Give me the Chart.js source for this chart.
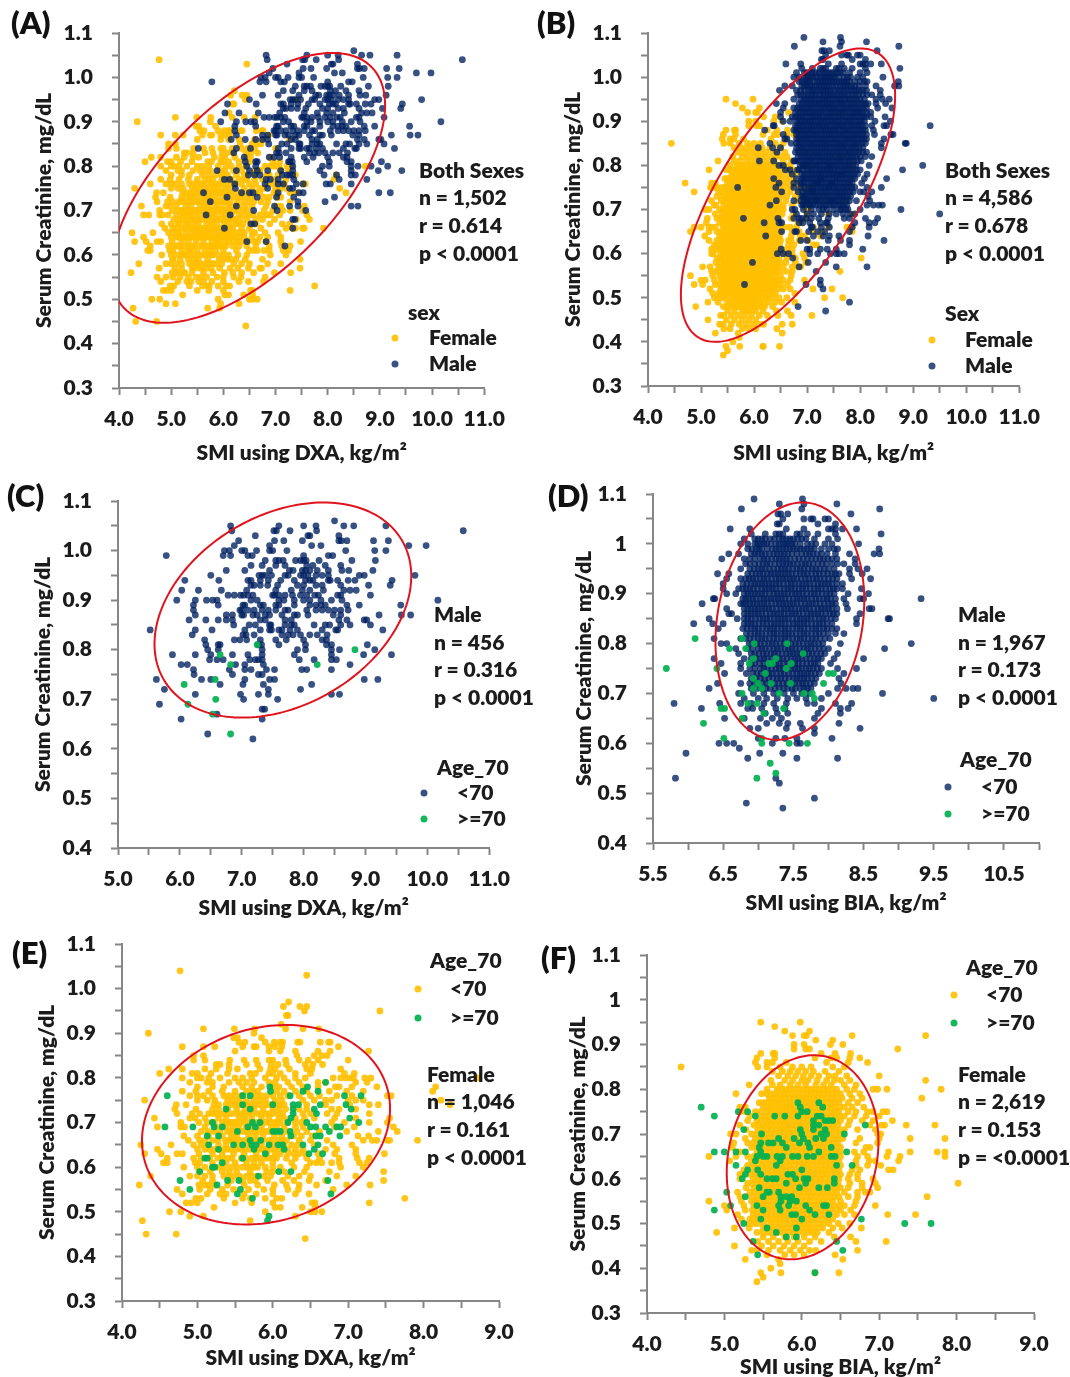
<!DOCTYPE html>
<html>
<head>
<meta charset="utf-8">
<title>Serum creatinine vs SMI</title>
<script src="https://cdn.jsdelivr.net/npm/chart.js@4"></script>
<style>
html, body { margin: 0; padding: 0; background: #fff; }
#page { position: relative; width: 1070px; height: 1377px; overflow: hidden; }
canvas { position: absolute; }
.t { position: absolute; font: 800 21px Lato, sans-serif; color: #1c1c1c; line-height: 1; transform: translateY(-50%); margin-top: -2px; white-space: nowrap; }
.letter { font-size: 31px; color: #111; }
.dot { position: absolute; width: 7px; height: 7px; border-radius: 50%; transform: translate(-50%, -50%); }
</style>
</head>
<body>
<div id="page"></div>
<script>
// rows are [creatinine, smi, smi, ...] - creatinine is reported in 0.01 steps
const dxaFemale = [
[1.04,4.77],[1.03,6.45],[.97,6.21],[.96,6.14,6.36,6.45],[.95,6.42,7.42],[.94,6.18,6.2],[.92,6.11],
[.91,5.08,5.49,5.76,6.17,6.4,6.61],[.90,4.35,5.75],[.89,5.48,5.53,5.85],
[.88,5.55,5.63,5.9,6.02,6.1,6.13,6.33,6.36,6.63,6.74,6.76],
[.87,4.8,5.08,5.23,5.6,5.75,5.78,5.95,6.03,6.12,6.87],
[.86,5.5,5.95,6.1,6.3,6.6,6.76,7.27],[.85,4.95,5.08,6.32,6.55,6.65,6.72],
[.84,4.95,5.1,5.43,5.62,5.78,5.95,6.0,6.17,6.35,6.47,6.6,7.0],
[.83,5.25,5.3,5.42,5.65,5.8,5.98,6.07,6.18,6.43,6.53,6.66],
[.82,4.62,4.8,5.1,5.25,5.42,5.53,5.83,5.97,6.03,6.22,6.45,6.52,6.9],
[.81,4.5,4.93,5.0,5.18,5.4,5.7,5.77,5.95,6.0,6.1,6.3,6.5,6.95,7.08],
[.80,4.8,5.0,5.05,5.15,5.3,5.5,5.6,5.72,5.9,6.05,6.15,6.3,6.43,6.8,6.9,6.97,7.03,7.07,7.22,7.3,8.72],
[.79,4.9,5.13,5.2,5.42,5.55,5.65,5.75,5.95,6.03,6.2,6.35,6.6,6.7,7.1,7.25],
[.78,5.0,5.2,5.35,5.6,5.72,5.85,6.0,6.08,6.25,6.4,6.6,6.83,6.88,7.05,7.38,8.16],
[.77,4.8,4.98,5.15,5.33,5.5,5.65,5.73,5.8,6.05,6.15,6.3,6.45,6.75,6.98,7.2,8.12],
[.76,4.9,5.0,5.08,5.2,5.35,5.42,5.5,5.58,5.78,5.85,5.92,6.0,6.1,6.2,6.35,6.5,6.62,6.85,7.05,7.52,7.57],
[.75,4.3,5.0,5.13,5.23,5.4,5.47,5.55,5.65,5.75,5.83,5.9,6.03,6.12,6.4,6.55,6.7,6.78,7.0,7.1,7.2,8.23],
[.74,4.72,4.85,5.28,5.38,5.5,5.6,5.7,5.82,5.95,6.05,6.15,6.45,6.7,7.02,7.28,7.4,8.35],
[.73,4.7,4.98,5.2,5.28,5.4,5.52,5.63,5.75,5.87,6.0,6.08,6.17,6.35,6.45,6.78,6.88,7.1],
[.72,4.73,4.93,5.03,5.15,5.25,5.35,5.45,5.58,5.68,5.8,5.9,6.0,6.13,6.4,6.5,6.72,6.85,7.28],
[.71,4.43,4.9,4.97,5.1,5.28,5.38,5.55,5.63,5.72,5.85,5.95,6.08,6.15,6.3,6.42,6.55,6.82,7.1,7.55],
[.70,4.78,5.02,5.13,5.33,5.43,5.5,5.62,5.78,5.9,6.02,6.1,6.3,6.38,6.78,6.95,7.28,7.52],
[.69,4.47,4.78,4.83,5.1,5.25,5.38,5.47,5.55,5.65,5.75,5.85,5.98,6.05,6.15,6.3,6.4,6.82,7.08,7.6],
[.68,5.05,5.22,5.4,5.48,5.6,5.7,5.82,5.92,6.0,6.18,6.32,6.45,6.62,6.98,7.4,7.65],
[.67,4.82,5.0,5.15,5.33,5.45,5.52,5.68,5.77,5.87,6.02,6.12,6.28,6.38,6.52,7.13,7.27],
[.66,4.88,5.03,5.2,5.42,5.5,5.63,5.72,5.8,5.95,6.08,6.18,6.35,6.5,6.72,7.2,7.32,7.38,7.52,7.55,7.92],
[.65,4.25,4.65,4.95,5.05,5.13,5.28,5.38,5.53,5.67,5.85,6.0,6.15,6.25,6.33,6.55,6.8,7.05],
[.64,4.47,5.0,5.1,5.22,5.35,5.45,5.58,5.7,5.82,5.9,6.03,6.2,6.3,6.4,6.7,6.85,7.1],
[.63,4.3,4.52,4.73,4.8,5.02,5.2,5.33,5.48,5.62,5.78,5.92,6.03,6.1,6.2,6.28,6.35,6.43,6.6,6.82,7.1,7.48],
[.62,4.6,4.95,5.05,5.27,5.4,5.58,5.72,5.83,5.95,6.05,6.18,6.3,6.45,6.62,6.88,7.12,7.28],
[.61,4.55,4.6,4.97,5.03,5.2,5.38,5.5,5.65,5.75,5.85,6.0,6.25,6.5,6.58,6.65,6.78,6.88,7.15,7.25],
[.60,4.82,5.0,5.1,5.28,5.45,5.6,5.72,5.8,6.1,6.28,6.45,6.9,7.2],
[.59,5.03,5.17,5.33,5.42,5.52,5.7,5.92,6.0,6.15,6.42,6.75,7.47],
[.58,4.38,4.9,5.0,5.1,5.35,5.48,5.65,5.78,5.97,6.2,6.35,6.5,6.85,7.1],
[.57,5.07,5.2,5.45,5.6,5.7,5.77,5.93,6.13,6.28,6.48,6.7,7.47],
[.56,4.23,5.02,5.1,5.15,5.23,5.4,5.62,5.8,6.02,6.18,6.35,6.58,6.98,7.29],
[.55,4.73,5.03,5.17,5.33,5.48,5.68,5.88,6.0,6.2,6.34,6.8],
[.54,4.8,5.13,5.3,5.38,5.62,5.78,6.0,6.3,6.48],
[.53,4.98,5.05,5.35,5.6,5.7,5.9,6.05,6.12,7.75],
[.52,4.85,4.92,5.0,5.5,5.72,6.0,6.52,6.56,7.28],
[.51,5.22,6.03,6.1,6.39,6.56],[.50,4.63,4.78,5.9,6.56,6.65,6.5],[.49,4.9,5.08,6.3],
[.48,4.27,5.7],[.45,4.32,4.72],[.44,6.43]];

// thick middle of the DXA female cloud
const dxaFemaleDense = [
[.74,5.22,5.44,5.55,5.65,5.76,5.9,6.0,6.1],[.72,5.2,5.3,5.4,5.52,5.63,5.74,5.85,5.95,6.07],
[.70,5.22,5.38,5.47,5.56,5.7,5.84,5.96,6.06,6.2],[.68,5.14,5.3,5.44,5.54,5.65,5.76,5.87,5.96,6.08],
[.66,5.1,5.27,5.37,5.46,5.56,5.68,5.76,5.87,6.0,6.13],[.64,5.16,5.28,5.4,5.52,5.64,5.76,5.86,5.97,6.1],
[.62,5.16,5.33,5.46,5.64,5.78,5.9,6.0],[.60,5.2,5.36,5.52,5.66,5.76,5.9,6.0],[.58,5.2,5.42,5.56,5.72,5.88]];

const dxaFemaleOld = [
[.79,6.7],[.78,5.96,6.46],[.77,5.97,6.4,6.6],[.76,4.6,5.6,5.7,6.23,6.95,7.17],[.74,5.6,6.0,6.27,6.34,6.63,6.97],
[.73,5.38,5.7,6.27,6.55,7.04],[.72,6.27,6.58],[.71,6.24,7.02],[.70,5.2,5.73,5.83,6.2,6.45,7.14],
[.69,4.57,4.94,5.22,5.33,5.67,5.77,6.5,6.57,6.7,6.85,6.9],[.68,5.53,6.0,6.05,6.1,6.23,6.75],
[.67,5.13,5.28,6.24,6.57,6.63,6.89],[.66,5.7,5.84],[.65,5.15,5.48,5.6,5.72,5.78,5.95,6.07,6.13,6.4,6.6],
[.64,5.28,5.75,6.15,6.55],[.63,5.9,6.48,6.66],[.62,5.1,5.13,5.6],[.61,5.33],[.60,5.2,5.23],[.59,5.03,6.08,6.24],
[.58,5.81],[.57,4.77,5.4,5.55,6.73],[.56,5.26],[.55,4.9,5.57],[.54,5.53,6.77],[.53,5.73],[.49,5.95],[.48,5.93]];

const dxaMale = [
[1.06,8.5],[1.05,6.82,7.6,8.0,8.2,8.65,8.81,9.33],[1.04,6.84,7.52,7.56,7.78,8.21,10.58],[1.03,7.22,8.07,8.1,8.57],
[1.02,6.95,7.53,7.68,7.98,8.57,8.61,8.7,9.13,9.37],[1.01,6.88,7.45,8.13,8.28,9.7,9.98],
[1.00,6.72,6.8,7.0,7.05,7.24,7.45,7.5,7.73,8.68,9.15,9.33],[.99,5.78,6.7,6.82,7.1,7.17,8.0,8.4,8.47],
[.98,7.38,7.55,7.6,7.67,7.87,7.95,8.0,8.04,8.25,8.78,9.16],[.97,7.15,7.33,7.55,7.7,8.05,8.15,8.35,8.6],
[.96,6.75,7.05,7.45,7.77,7.83,7.98,8.03,8.1,8.22,8.4,8.62,8.73,9.12],
[.95,6.5,7.28,7.33,7.38,7.48,7.7,7.75,7.95,8.0,8.07,8.2,8.3,8.4,8.9,8.98,9.8],
[.94,6.08,6.63,7.1,7.15,7.3,7.43,7.63,7.85,8.03,8.1,8.15,8.4,8.43,8.55,8.72,8.83,9.43],
[.93,7.15,7.2,7.3,7.42,7.58,7.9,8.0,8.2,8.3,8.6,9.05,9.4],
[.92,6.03,6.3,6.67,7.08,7.55,7.8,7.98,8.1,8.32,8.65,8.75,8.85],
[.91,6.78,6.88,6.98,7.03,7.1,7.18,7.5,7.53,7.6,7.7,7.82,7.95,8.05,8.18,8.24,8.55,8.6,9.08],
[.90,5.95,6.25,6.43,6.53,6.6,7.15,7.25,7.6,7.68,7.85,8.0,8.1,8.28,8.45,8.62,10.17],
[.89,6.22,6.62,7.02,7.05,7.3,7.35,7.55,7.6,7.85,8.1,8.2,8.28,8.35,8.7,8.9,9.57],
[.88,6.22,6.97,7.0,7.1,7.2,7.33,7.43,7.55,7.7,7.75,8.05,8.2,8.3,8.4,8.5,8.6,8.72],
[.87,6.25,6.75,6.85,7.0,7.03,7.18,7.25,7.38,7.45,7.65,7.85,7.9,8.07,8.48,8.6,9.22,9.58,9.73],
[.86,6.15,6.42,6.62,6.75,6.85,7.3,7.38,7.7,7.8,8.57,8.7,8.98,9.02],
[.85,6.87,7.12,7.22,7.45,7.47,7.7,7.8,7.85,8.17,8.35,8.42,8.6,8.75,9.08],
[.84,5.52,6.25,6.52,7.05,7.3,7.45,7.48,7.6,7.65,7.78,7.9,8.3,8.52,8.55,9.28],
[.83,6.2,7.02,7.07,7.2,7.65,7.75,7.83,7.95,8.1,8.22,8.38],[.82,6.4,6.88,6.97,7.08,7.3,7.55,7.72,8.0,8.3,8.37],
[.81,6.42,6.62,6.65,7.27,7.32,7.6,8.03,8.37,8.45,9.03],[.80,6.45,6.62,7.33,7.9,8.03,8.45,8.58,9.15],
[.79,5.88,6.25,6.5,6.85,7.1,7.33,7.85,8.45,8.97,9.42],[.78,6.48,6.6,6.7,7.13,7.22,7.27,7.33,7.93,8.17,8.45,8.53],
[.77,6.02,6.12,6.9,7.05,7.35,8.75],[.76,6.22,6.8,7.05,7.15,7.4,7.53,7.97,8.05,8.45],[.75,6.23,6.85,7.27,7.33],
[.74,5.62,6.35,6.5,7.05,7.45,7.53,8.98,9.2],[.73,6.65,7.02,7.35,8.13],[.72,5.75,7.43,7.95],
[.71,6.25,6.98,7.27,7.43,8.45,8.58],[.70,7.03,7.58],[.69,5.67],[.68,7.33,7.37],[.67,6.6],[.66,6.02,7.33],[.63,6.45],[.62,7.18]];

const dxaMaleOld = [[.81,7.25],[.80,8.83],[.79,6.65],[.77,6.82,8.22],[.74,6.57],[.73,6.07],[.70,6.58],[.69,6.13],[.67,6.53],[.63,6.82]];

const biaFemale = [
[.95,5.47,5.98],[.94,5.65],[.93,5.78,6.1],[.92,5.88,6.03,6.06,6.65,7.6],[.91,6.18,6.4],[.90,5.9,6.03,6.37,6.53],
[.89,5.9,6.05,6.1,7.24],[.88,5.47,5.63,5.65,6.25,6.43,6.63],[.87,5.42,5.65,6.17,6.38,6.45,6.62,6.75],
[.86,5.4,5.55,5.62,5.8,6.32,6.6,6.85],[.85,4.44,5.43,5.55,5.72,5.88,6.0,6.12,6.4,6.55],
[.84,5.62,5.75,5.85,5.95,6.05,6.15,6.3,6.48],[.83,5.7,5.82,5.92,6.02,6.12,6.22,6.35,6.43,6.58,7.0],
[.82,5.6,5.78,5.88,6.0,6.08,6.2,6.32,6.42,6.5,6.62,7.6],[.81,5.32,5.62,5.72,5.85,5.95,6.05,6.18,6.28,6.38,6.55,6.7],
[.80,5.55,5.68,5.78,5.9,6.02,6.12,6.22,6.33,6.45,6.58,6.68,6.92,6.98,7.1,7.8],
[.79,5.15,5.48,5.6,5.72,5.82,5.95,6.08,6.17,6.28,6.4,6.5,6.62,6.75],
[.78,5.58,5.68,5.78,5.9,6.0,6.1,6.2,6.32,6.42,6.52,6.65,6.78,7.55],
[.77,5.45,5.55,5.65,5.75,5.85,5.95,6.05,6.15,6.27,6.37,6.48,6.6,6.72],
[.76,5.2,5.27,5.5,5.6,5.7,5.8,5.9,6.02,6.12,6.22,6.32,6.43,6.55,6.65,6.8],
[.75,5.2,5.27,5.4,5.55,5.65,5.75,5.85,5.95,6.05,6.15,6.25,6.38,6.48,6.6,6.7,6.85,6.92,7.05,7.1],
[.74,5.33,5.48,5.58,5.7,5.8,5.9,6.02,6.12,6.22,6.33,6.43,6.55,6.68,6.83,7.0],
[.73,5.3,5.42,5.53,5.63,5.75,5.85,5.97,6.08,6.18,6.28,6.4,6.5,6.62,6.78,6.92,7.17],
[.72,5.2,5.38,5.5,5.6,5.72,5.82,5.93,6.03,6.13,6.25,6.35,6.47,6.6,6.88,7.03,7.07,7.72,7.35],
[.71,5.28,5.43,5.55,5.67,5.77,5.88,6.0,6.1,6.2,6.32,6.42,6.55,6.72,6.95],
[.70,5.08,5.15,5.35,5.48,5.6,5.72,5.83,5.95,6.05,6.17,6.27,6.38,6.5,6.98,7.02],
[.69,5.27,5.4,5.52,5.63,5.75,5.85,5.97,6.08,6.2,6.3,6.42,6.53,6.75,7.0,7.4,7.85],
[.68,5.12,5.3,5.43,5.55,5.67,5.78,5.9,6.02,6.13,6.23,6.35,6.47,6.7,6.98],
[.67,5.1,5.35,5.48,5.6,5.72,5.82,5.93,6.05,6.17,6.27,6.38,6.5,6.83,6.88],
[.66,5.2,5.42,5.53,5.65,5.77,5.88,6.0,6.1,6.22,6.33,6.45,6.68,6.8,7.12,7.4,7.75,7.85],
[.65,4.8,5.15,5.3,5.45,5.57,5.68,5.8,5.92,6.03,6.15,6.27,6.38,6.5,6.72,6.85,7.1,7.27,7.85],
[.64,5.07,5.35,5.5,5.62,5.73,5.85,5.97,6.08,6.2,6.32,6.43,6.7,6.87,6.95,7.25],
[.63,5.3,5.43,5.55,5.67,5.78,5.9,6.02,6.13,6.25,6.37,6.5,6.7,6.85,7.02],
[.62,5.25,5.38,5.5,5.62,5.73,5.85,5.97,6.08,6.2,6.3,6.42,6.65,6.75,7.12,7.18],
[.61,5.2,5.33,5.45,5.57,5.68,5.8,5.92,6.03,6.15,6.27,6.38,6.5,6.62,6.72],
[.60,5.2,5.37,5.48,5.6,5.72,5.83,5.95,6.07,6.18,6.3,6.42,6.6,6.72,6.92],
[.59,5.3,5.42,5.53,5.65,5.77,5.88,6.0,6.12,6.23,6.35,6.47,6.62,6.78,6.95,8.02],
[.58,5.28,5.38,5.5,5.62,5.73,5.85,5.97,6.08,6.2,6.32,6.43,6.6,6.78,6.98],
[.57,5.17,5.33,5.45,5.57,5.68,5.8,5.92,6.03,6.15,6.27,6.4,6.55,6.72,6.82,6.88],
[.56,5.2,5.35,5.48,5.6,5.72,5.83,5.95,6.07,6.18,6.3,6.42,6.6,6.72,7.62],
[.55,4.8,5.22,5.4,5.52,5.63,5.75,5.87,5.98,6.1,6.22,6.33,6.5,6.7],
[.54,5.0,5.25,5.38,5.5,5.6,5.72,5.83,5.95,6.07,6.18,6.3,6.42,6.55,6.68,6.95],
[.53,5.03,5.27,5.43,5.55,5.67,5.78,5.9,6.02,6.13,6.25,6.37,6.5,6.63],
[.52,5.17,5.37,5.48,5.6,5.72,5.83,5.95,6.07,6.18,6.3,6.45,6.55,6.68,7.11,7.47],
[.51,5.22,5.33,5.43,5.55,5.67,5.78,5.9,6.02,6.13,6.28,6.4],[.50,5.32,5.43,5.6,5.72,5.85,5.97,6.08,6.22,6.35,6.47,6.62],
[.49,5.13,5.32,5.5,5.62,5.75,5.88,6.0,6.12,6.27,6.4,6.52,6.77],[.48,4.9,5.42,5.57,5.7,5.83,5.95,6.08,6.2,6.35],
[.47,5.5,5.63,5.78,5.9,6.03,6.17,6.42,6.63],[.46,5.43,5.57,5.7,5.82,5.95,6.1,6.25,6.7,7.09],[.45,5.13,5.48,5.63,5.77,5.9,6.03],
[.44,5.35,5.42,5.57,5.72,5.85,5.98,6.1,6.18,6.72],[.43,5.55,5.78,5.9,6.03,6.43],[.42,5.27,5.7,6.53],[.41,5.72],
[.40,5.6],[.39,5.47,5.73,6.48,6.17],[.38,5.5],[.37,5.42]];

// thick middle of the BIA female cloud
const biaFemaleDense = [
[.80,5.74,5.84,5.96,6.07,6.17,6.28,6.39],[.79,5.55,5.66,5.77,5.88,6.01,6.12,6.23,6.34,6.45],
[.78,5.63,5.73,5.84,5.95,6.05,6.15,6.26,6.37,6.47],[.77,5.5,5.6,5.7,5.8,5.9,6.0,6.1,6.21,6.32,6.43],
[.76,5.55,5.65,5.75,5.85,5.96,6.07,6.17,6.27,6.38,6.49],[.75,5.47,5.6,5.7,5.8,5.9,6.0,6.1,6.2,6.32,6.43],
[.74,5.53,5.64,5.75,5.85,5.96,6.07,6.17,6.28,6.38,6.49],[.73,5.47,5.58,5.69,5.8,5.91,6.02,6.13,6.23,6.34,6.45],
[.72,5.44,5.55,5.66,5.77,5.87,5.98,6.08,6.19,6.3,6.41],[.71,5.49,5.61,5.72,5.82,5.94,6.05,6.15,6.26,6.37,6.48],
[.70,5.42,5.54,5.66,5.78,5.89,6.0,6.11,6.22,6.33,6.44],[.69,5.46,5.57,5.69,5.8,5.91,6.02,6.14,6.25,6.36,6.47],
[.68,5.37,5.49,5.61,5.72,5.84,5.96,6.07,6.18,6.29,6.41],[.67,5.42,5.54,5.66,5.77,5.88,5.99,6.11,6.22,6.33,6.44],
[.66,5.47,5.59,5.71,5.82,5.94,6.05,6.16,6.27,6.39,6.5],[.65,5.38,5.51,5.62,5.74,5.86,5.97,6.09,6.21,6.32,6.44],
[.64,5.42,5.56,5.67,5.79,5.91,6.02,6.14,6.26,6.37,6.48],[.63,5.37,5.49,5.61,5.72,5.84,5.96,6.07,6.19,6.31,6.43],
[.62,5.44,5.56,5.67,5.79,5.91,6.02,6.14,6.25,6.36,6.48],[.61,5.39,5.51,5.62,5.74,5.86,5.97,6.09,6.21,6.32,6.44],
[.60,5.43,5.54,5.66,5.77,5.89,6.01,6.12,6.24,6.36,6.48],[.59,5.36,5.47,5.59,5.71,5.82,5.94,6.06,6.17,6.29,6.41],
[.58,5.44,5.56,5.67,5.79,5.91,6.02,6.14,6.26,6.37,6.5],[.57,5.39,5.51,5.62,5.74,5.86,5.97,6.09,6.21,6.33,6.45],
[.56,5.42,5.54,5.66,5.77,5.89,6.01,6.12,6.24,6.36,6.48],[.55,5.35,5.46,5.57,5.69,5.81,5.92,6.04,6.16,6.27,6.4],
[.54,5.44,5.55,5.66,5.77,5.89,6.01,6.12,6.24,6.36,6.48],[.53,5.36,5.49,5.61,5.72,5.84,5.96,6.07,6.19,6.31,6.44],
[.52,5.42,5.54,5.66,5.77,5.89,6.01,6.12,6.24,6.37],[.51,5.38,5.49,5.61,5.72,5.84,5.96,6.07,6.2,6.34],
[.50,5.38,5.51,5.66,5.78,5.91,6.02,6.15,6.28],[.49,5.56,5.68,5.81,5.94,6.06,6.19],[.48,5.5,5.63,5.76,5.89,6.02,6.14]];

const biaFemaleOld = [
[.77,5.95,6.22],[.76,4.7,5.98,6.27],[.75,5.18,5.3,6.0,6.07],[.74,4.87,5.4,5.65,5.78,5.95,6.2,6.25],[.73,6.15,6.3,6.35,6.4],
[.72,6.15,6.22,6.82],[.71,5.25,5.98,6.15,6.3],[.70,5.48,6.0,6.25,6.32,6.55],[.69,5.7,5.9,6.02,6.18,6.28],
[.68,5.47,5.57,5.63,5.75,5.97,6.08],[.67,5.45,5.8,6.1,6.38],[.66,4.87,5.0,5.15,5.27,5.47,6.22,6.58],
[.65,5.42,5.5,5.55,5.68,5.75,5.88,5.95,6.07,6.15,6.38,6.43],[.64,5.4,5.72],[.63,5.15,5.67,6.45,6.65],[.62,5.3,5.43,6.0],
[.61,5.27,5.47,5.82,5.88],[.60,5.23,5.55,5.62,5.67,5.92,6.03,6.08,6.42],[.59,5.8,6.05,6.42],[.58,5.45,5.97,6.22,6.33],
[.57,5.03,5.55,5.58,5.7],[.56,5.27,5.5,5.73,5.8,5.87],[.55,5.73,5.85,5.93],[.54,5.08,5.42,5.7,5.83,6.05,6.28,6.32],
[.53,4.87,5.5,5.72,6.1],[.52,5.87,5.92,6.17,6.35],[.51,5.47,6.0,6.77],[.50,5.25,7.33,7.67],[.49,5.55,5.93],[.48,5.67],
[.47,5.8,5.93],[.46,5.37,6.45],[.44,6.53],[.43,5.43],[.39,6.17]];

const biaMale = [
[1.09,6.94,7.63],[1.08,7.3,7.65,8.12],[1.07,6.76,7.62,8.73],[1.06,7.28,7.32,7.42,8.32],[1.05,7.35,7.65,7.75,7.78,7.95,8.0],
[1.04,7.27,7.3,7.85,8.1],[1.03,6.6,6.88,7.4,7.65,8.0,8.05,8.1,8.2,8.4],[1.02,6.9,7.1,7.25,7.3,7.35,7.55,7.6,7.7,7.85,8.1,8.75],
[1.01,6.8,6.95,7.0,7.1,7.17,7.3,7.4,7.5,7.62,7.8,8.0,8.13],[1.00,6.75,6.85,6.95,7.03,7.12,7.25,7.35,7.43,7.52,7.7,7.82,7.95,8.05,8.43],
[.99,6.85,6.97,7.05,7.2,7.3,7.4,7.5,7.6,7.7,7.8,8.0,8.08,8.13,8.72],
[.98,6.58,6.72,6.9,7.0,7.1,7.22,7.32,7.42,7.55,7.68,7.78,7.9,8.1,8.3,8.65,8.73],
[.97,6.48,6.8,6.88,7.03,7.13,7.25,7.35,7.45,7.58,7.7,7.82,7.93,8.05,8.12,8.38],
[.96,6.82,6.95,7.07,7.17,7.3,7.4,7.5,7.62,7.72,7.85,7.97,8.13,8.22,8.38],
[.95,6.75,6.88,7.0,7.1,7.22,7.33,7.43,7.55,7.65,7.77,7.88,8.0,8.08,8.3,8.42,8.55],
[.94,6.42,6.58,6.85,6.97,7.07,7.18,7.28,7.38,7.48,7.6,7.7,7.82,7.93,8.05,8.15,8.3,8.48],
[.93,6.55,6.75,6.82,6.92,7.03,7.13,7.25,7.35,7.45,7.55,7.67,7.78,7.88,8.0,8.12,8.33,8.6],
[.92,6.5,6.78,6.9,7.0,7.1,7.2,7.3,7.42,7.52,7.63,7.73,7.85,7.95,8.05,8.2],
[.91,6.5,6.72,6.83,6.93,7.05,7.15,7.25,7.37,7.47,7.58,7.68,7.8,7.9,8.02,8.12,8.2,8.47],
[.90,6.55,6.68,6.8,6.9,7.0,7.1,7.22,7.32,7.42,7.53,7.63,7.75,7.85,7.97,8.08,8.28,8.57],
[.89,6.36,6.38,6.78,6.87,6.97,7.08,7.18,7.28,7.38,7.5,7.6,7.7,7.82,7.93,8.03,8.22,8.45,8.5,9.32],
[.88,6.2,6.75,6.83,6.93,7.03,7.13,7.25,7.35,7.45,7.55,7.67,7.77,7.88,8.0,8.1,8.25],
[.87,6.55,6.8,6.9,7.0,7.1,7.2,7.32,7.42,7.52,7.63,7.73,7.85,7.95,8.05,8.27,8.58,8.62],
[.86,6.58,6.62,6.85,6.95,7.05,7.17,7.27,7.37,7.48,7.58,7.7,7.8,7.9,8.02,8.12,8.45],
[.85,6.3,6.7,6.8,6.9,7.02,7.12,7.23,7.33,7.43,7.55,7.65,7.75,7.87,7.97,8.1,8.4,8.85,8.87],
[.84,6.08,6.35,6.5,6.85,6.95,7.07,7.18,7.28,7.38,7.5,7.6,7.7,7.82,7.92,8.05,8.4],
[.83,6.43,6.78,6.9,7.0,7.12,7.22,7.33,7.43,7.55,7.65,7.77,7.87,7.98,8.12],
[.82,6.83,6.95,7.05,7.17,7.27,7.38,7.48,7.6,7.7,7.82,7.93,8.1,8.22],
[.81,6.37,6.75,6.88,7.0,7.1,7.22,7.33,7.43,7.55,7.65,7.77,7.88,8.02],
[.80,6.47,6.55,6.92,7.03,7.15,7.25,7.37,7.47,7.58,7.7,7.8,7.92,8.17,9.18],
[.79,6.68,6.85,7.0,7.1,7.22,7.32,7.43,7.53,7.65,7.75,7.87,8.0,8.8],
[.78,6.72,6.95,7.07,7.18,7.28,7.4,7.5,7.6,7.72,7.83,7.95,8.13],
[.77,6.37,6.8,6.9,7.03,7.13,7.25,7.35,7.47,7.57,7.68,7.8,7.9,8.08,8.5],
[.76,6.47,6.75,6.95,7.08,7.2,7.3,7.42,7.52,7.63,7.75,7.85,8.03],
[.75,6.75,6.88,7.03,7.13,7.25,7.35,7.47,7.57,7.68,7.78,7.9,8.13,8.4],
[.74,6.52,6.83,6.98,7.1,7.2,7.32,7.43,7.55,7.65,7.75,7.87,8.22],
[.73,6.9,7.03,7.15,7.27,7.38,7.5,7.6,7.7,7.82,8.15],
[.72,6.42,6.75,6.88,7.0,7.12,7.23,7.35,7.47,7.58,7.68,7.8,8.18],
[.71,6.3,6.9,7.05,7.17,7.3,7.42,7.53,7.65,7.75,8.13,8.25,8.35,8.42],
[.70,6.72,6.93,7.08,7.22,7.37,7.5,7.62,7.73,8.0,8.77],
[.69,6.8,7.0,7.12,7.27,7.42,7.55,7.68,7.9,9.5],
[.68,5.8,6.45,6.75,6.9,7.08,7.22,7.4,7.7,7.8,8.1,8.33],
[.67,6.19,6.85,6.92,7.05,7.25,7.38,7.9,8.17,8.28],[.66,7.1,7.27,7.42,7.85,8.17],
[.65,6.52,6.8,7.03,7.2,7.33,7.8],[.64,7.12,7.3,7.42,7.6,8.15],[.63,6.88,7.0,7.4,7.63,7.8,8.45],
[.62,7.8],[.61,7.0,7.25,7.38,7.55,8.05],[.60,6.44,6.55,6.65,7.2,7.55,7.6],[.59,6.73],[.58,5.97,7.02,7.35],
[.57,6.85,7.55,8.13],[.53,5.82,7.25],[.52,7.3],[.49,7.8],[.48,6.83],[.47,7.35]];

// thick middle of the BIA male cloud
const biaMaleDense = [
[1.01,7.05,7.23,7.35,7.45,7.56,7.68],[1.00,6.99,7.08,7.18,7.3,7.39,7.48,7.6,7.76],
[.99,6.91,7.01,7.13,7.25,7.35,7.45,7.55,7.65,7.75,7.9],[.98,6.95,7.05,7.16,7.27,7.37,7.48,7.62,7.73,7.84,7.98],
[.97,6.95,7.08,7.19,7.3,7.4,7.52,7.64,7.76,7.88,7.99],[.96,6.88,7.01,7.12,7.24,7.35,7.45,7.56,7.67,7.78,7.91,8.05],
[.95,6.94,7.05,7.16,7.28,7.38,7.49,7.6,7.71,7.82,7.94],[.94,6.91,7.02,7.13,7.23,7.33,7.43,7.54,7.65,7.76,7.87,7.99,8.1],
[.93,6.87,6.97,7.08,7.19,7.3,7.4,7.5,7.61,7.72,7.83,7.94,8.06],[.92,6.84,6.95,7.05,7.15,7.25,7.36,7.47,7.58,7.68,7.79,7.9,8.0,8.12],
[.91,6.78,6.88,6.99,7.1,7.2,7.31,7.42,7.52,7.63,7.74,7.85,7.96,8.07],[.90,6.85,6.95,7.05,7.16,7.27,7.37,7.48,7.58,7.69,7.8,7.91,8.02],
[.89,6.82,6.92,7.03,7.13,7.23,7.33,7.44,7.55,7.65,7.76,7.87,7.98,8.1],[.88,6.79,6.88,6.98,7.08,7.19,7.3,7.4,7.5,7.61,7.72,7.82,7.94,8.05],
[.87,6.85,6.95,7.05,7.15,7.26,7.37,7.47,7.58,7.68,7.79,7.9,8.0,8.12],[.86,6.8,6.9,7.0,7.11,7.22,7.32,7.43,7.53,7.64,7.75,7.85,7.96,8.07],
[.85,6.85,6.96,7.07,7.17,7.28,7.38,7.49,7.6,7.7,7.81,7.92,8.04],[.84,6.8,6.9,7.01,7.12,7.23,7.33,7.44,7.55,7.65,7.76,7.87,7.98],
[.83,6.84,6.95,7.06,7.17,7.27,7.38,7.49,7.6,7.71,7.82,7.93,8.05],[.82,6.89,7.0,7.11,7.22,7.33,7.43,7.54,7.65,7.76,7.87,8.0],
[.81,6.82,6.94,7.05,7.16,7.27,7.38,7.49,7.6,7.71,7.82,7.95],[.80,6.87,6.98,7.09,7.2,7.31,7.42,7.53,7.64,7.75,7.86],
[.79,6.92,7.05,7.16,7.27,7.38,7.48,7.59,7.7,7.81,7.93],[.78,6.9,7.01,7.12,7.23,7.34,7.45,7.55,7.66,7.77,7.89],
[.77,6.97,7.08,7.19,7.3,7.41,7.52,7.62,7.74,7.85],[.76,6.9,7.02,7.14,7.25,7.36,7.47,7.57,7.69,7.8],
[.75,6.95,7.08,7.19,7.3,7.41,7.52,7.62,7.73,7.84],[.74,6.92,7.04,7.15,7.26,7.37,7.49,7.6,7.7,7.81],
[.73,6.97,7.09,7.21,7.32,7.44,7.55,7.65,7.76],[.72,6.94,7.06,7.17,7.29,7.41,7.52,7.63,7.74],[.71,6.98,7.11,7.24,7.36,7.48,7.6,7.7]];

const biaMaleOld = [
[.81,6.1,6.77],[.80,6.94,7.41],[.79,6.59,6.82],[.78,7.64],[.77,6.93,7.25],[.76,6.87,7.15,7.2,7.47],[.75,5.69,6.41,7.4],
[.74,7.1,8.0,8.07],[.73,6.93],[.72,7.0,7.18,7.46,7.93],[.71,6.93,7.05],[.70,6.77,7.3,7.65,7.77],[.69,7.8],[.68,6.85,6.98],
[.67,6.47,6.52,7.36],[.66,7.08],[.65,6.77],[.64,6.22],[.61,6.51,7.05],[.60,7.05,7.44,7.7],[.56,7.17],[.54,7.25],[.53,6.98]];

// center x, center y, half width, half height, r of the red 95% ellipse in panels A-F
const ellipseA = [6.475, .751, 2.625, .304, .614];
const ellipseB = [6.64, .7325, 2.02, .3325, .678];
const ellipseC = [7.665, .88, 2.075, .217, .316];
const ellipseD = [7.45, .845, 1.06, .238, .173];
const ellipseE = [5.91, .695, 1.645, .2235, .161];
const ellipseF = [6.01, .648, .98, .228, .153];

const statsA = ['Both Sexes', 'n = 1,502', 'r = 0.614', 'p < 0.0001'];
const statsB = ['Both Sexes', 'n = 4,586', 'r = 0.678', 'p < 0.0001'];
const statsC = ['Male', 'n = 456', 'r = 0.316', 'p < 0.0001'];
const statsD = ['Male', 'n = 1,967', 'r = 0.173', 'p < 0.0001'];
const statsE = ['Female', 'n = 1,046', 'r = 0.161', 'p < 0.0001'];
const statsF = ['Female', 'n = 2,619', 'r = 0.153', 'p = <0.0001'];

const YELLOW = 'rgba(255,192,0,0.9)';
const NAVY = 'rgba(0,32,96,0.78)';
const GREEN = 'rgba(0,176,80,0.92)';
const AXIS = '#868686';

function toPoints(rows) {
    return rows.flatMap(r => r.slice(1).map(x => ({ x: x, y: r[0] })));
}

const dxaFemaleAll = dxaFemale.concat(dxaFemaleDense);
const biaFemaleAll = biaFemale.concat(biaFemaleDense);
const biaMaleAll = biaMale.concat(biaMaleDense);

const sexLabels = ['Female', 'Male'];
const ageLabels = ['<70', '>=70'];

// box = left, right, top, bottom of the axes in page pixels; tx, ty = centers of the axis titles
const panels = [
  { letter: '(A)', lx: 11, ly: 24, box: [119, 485, 33, 388], tx: 44, ty: 452, xr: [4, 11], yr: [.3, 1.1], xOdd: false, yInt: false,
    xTitle: 'SMI using DXA, kg/m²', ell: ellipseA, stats: statsA, sx: 419, sy: [171, 198, 226, 254],
    legTitle: 'sex', legX: 408, legY: 313, dotX: 395, labX: 429, labY: [338, 364], labels: sexLabels,
    series: [[dxaFemaleAll.concat(dxaFemaleOld), YELLOW], [dxaMale.concat(dxaMaleOld), NAVY]], dots: [YELLOW, NAVY] },
  { letter: '(B)', lx: 537, ly: 24, box: [648, 1020, 33, 386], tx: 573, ty: 452, xr: [4, 11], yr: [.3, 1.1], xOdd: false, yInt: false,
    xTitle: 'SMI using BIA, kg/m²', ell: ellipseB, stats: statsB, sx: 945, sy: [171, 198, 226, 254],
    legTitle: 'Sex', legX: 945, legY: 314, dotX: 932, labX: 965, labY: [340, 366], labels: sexLabels,
    series: [[biaFemaleAll.concat(biaFemaleOld), YELLOW], [biaMaleAll.concat(biaMaleOld), NAVY]], dots: [YELLOW, NAVY] },
  { letter: '(C)', lx: 7, ly: 497, box: [118, 490, 501, 848], tx: 43, ty: 907, xr: [5, 11], yr: [.4, 1.1], xOdd: false, yInt: false,
    xTitle: 'SMI using DXA, kg/m²', ell: ellipseC, stats: statsC, sx: 434, sy: [615, 643, 670, 698],
    legTitle: 'Age_70', legX: 437, legY: 768, dotX: 424, labX: 457, labY: [793, 819], labels: ageLabels,
    series: [[dxaMale, NAVY], [dxaMaleOld, GREEN]], dots: [NAVY, GREEN] },
  { letter: '(D)', lx: 548, ly: 497, box: [653, 1039, 494, 843], tx: 584, ty: 902, xr: [5.5, 11], yr: [.4, 1.1], xOdd: true, yInt: true,
    xTitle: 'SMI using BIA, kg/m²', ell: ellipseD, stats: statsD, sx: 958, sy: [615, 643, 670, 698],
    legTitle: 'Age_70', legX: 960, legY: 760, dotX: 948, labX: 981, labY: [787, 814], labels: ageLabels,
    series: [[biaMaleAll, NAVY], [biaMaleOld, GREEN]], dots: [NAVY, GREEN] },
  { letter: '(E)', lx: 12, ly: 954, box: [122, 499, 944, 1301], tx: 47, ty: 1357, xr: [4, 9], yr: [.3, 1.1], xOdd: false, yInt: false,
    xTitle: 'SMI using DXA, kg/m²', ell: ellipseE, stats: statsE, sx: 427, sy: [1075, 1102, 1130, 1158],
    legTitle: 'Age_70', legX: 430, legY: 961, dotX: 418, labX: 450, labY: [989, 1018], labels: ageLabels,
    series: [[dxaFemaleAll, YELLOW], [dxaFemaleOld, GREEN]], dots: [YELLOW, GREEN] },
  { letter: '(F)', lx: 541, ly: 959, box: [647, 1034, 955, 1313], tx: 578, ty: 1366, xr: [4, 9], yr: [.3, 1.1], xOdd: false, yInt: true,
    xTitle: 'SMI using BIA, kg/m²', ell: ellipseF, stats: statsF, sx: 958, sy: [1075, 1102, 1130, 1158],
    legTitle: 'Age_70', legX: 966, legY: 968, dotX: 954, labX: 986, labY: [995, 1023], labels: ageLabels,
    series: [[biaFemaleAll, YELLOW], [biaFemaleOld, GREEN]], dots: [YELLOW, GREEN] }
];

// red ellipse goes through the chart's own scales
const ellipsePlugin = {
    id: 'ellipse',
    afterDatasetsDraw(chart, args, opts) {
        const [cx, cy, rx, ry, r] = opts.params;
        const xs = chart.scales.x, ys = chart.scales.y, a = chart.chartArea, ctx = chart.ctx;
        ctx.save();
        ctx.beginPath();
        ctx.rect(a.left, a.top, a.right - a.left, a.bottom - a.top);
        ctx.clip();
        ctx.beginPath();
        for (let i = 0; i <= 180; i++) {
            const t = i / 180 * 2 * Math.PI;
            const px = xs.getPixelForValue(cx + rx * Math.cos(t));
            const py = ys.getPixelForValue(cy + ry * Math.cos(t - Math.acos(r)));
            if (i === 0) ctx.moveTo(px, py); else ctx.lineTo(px, py);
        }
        ctx.strokeStyle = '#E1141E';
        ctx.lineWidth = 2;
        ctx.stroke();
        ctx.restore();
    }
};

const page = document.getElementById('page');

function addText(str, x, y, cls) {
    const d = document.createElement('div');
    d.className = 't' + (cls ? ' ' + cls : '');
    d.textContent = str;
    d.style.left = x + 'px';
    d.style.top = y + 'px';
    page.appendChild(d);
}

function addDot(color, x, y) {
    const d = document.createElement('div');
    d.className = 'dot';
    d.style.background = color;
    d.style.left = x + 'px';
    d.style.top = y + 'px';
    page.appendChild(d);
}

function drawPanel(p) {
    const [left, right, top, bottom] = p.box;
    const pad = { top: 34, right: 32 };
    const canvasLeft = p.tx - 12, canvasTop = top - pad.top, canvasRight = right + pad.right, canvasBottom = p.ty + 14;
    const canvas = document.createElement('canvas');
    canvas.width = canvasRight - canvasLeft;
    canvas.height = canvasBottom - canvasTop;
    canvas.style.left = canvasLeft + 'px';
    canvas.style.top = canvasTop + 'px';
    page.appendChild(canvas);

    const tickFont = { family: 'Lato', weight: '800', size: 21 };
    const grid = { drawOnChartArea: false, tickLength: 7, tickColor: AXIS, tickWidth: 2 };
    const border = { color: AXIS, width: 2 };

    new Chart(canvas, {
        type: 'scatter',
        data: {
            // lower order is painted on top, the second series has to cover the first
            datasets: p.series.map((s, i) => ({
                data: toPoints(s[0]),
                backgroundColor: s[1],
                borderWidth: 0,
                pointRadius: 3.4,
                order: p.series.length - i
            }))
        },
        options: {
            responsive: false,
            animation: false,
            events: [],
            layout: { padding: pad },
            plugins: { legend: { display: false }, tooltip: { enabled: false }, ellipse: { params: p.ell } },
            scales: {
                x: {
                    min: p.xr[0], max: p.xr[1],
                    grid: grid, border: border,
                    afterFit(s) { s.height = canvasBottom - bottom; },
                    ticks: {
                        stepSize: 0.5, autoSkip: false, maxRotation: 0, padding: 12,
                        color: '#1c1c1c', font: tickFont,
                        callback(v) {
                            const whole = Number.isInteger(Math.round(v * 100) / 100);
                            return whole !== p.xOdd ? v.toFixed(1) : '';
                        }
                    },
                    title: { display: true, text: p.xTitle, color: '#1c1c1c', font: tickFont, padding: 0 }
                },
                y: {
                    min: p.yr[0], max: p.yr[1],
                    grid: grid, border: border,
                    afterFit(s) { s.width = left - canvasLeft; },
                    ticks: {
                        stepSize: 0.05, autoSkip: false, padding: 19,
                        color: '#1c1c1c', font: tickFont,
                        callback(v) {
                            const c = Math.round(v * 100);
                            if (c % 10 !== 0) return '';
                            if (p.yInt && c === 100) return '1';
                            return (c / 100).toFixed(1);
                        }
                    },
                    title: { display: true, text: 'Serum Creatinine, mg/dL', color: '#1c1c1c', font: tickFont, padding: 0 }
                }
            }
        },
        plugins: [ellipsePlugin]
    });

    addText(p.letter, p.lx, p.ly, 'letter');
    p.stats.forEach((s, i) => addText(s, p.sx, p.sy[i]));
    addText(p.legTitle, p.legX, p.legY);
    p.labels.forEach((s, i) => {
        addDot(p.dots[i], p.dotX, p.labY[i]);
        addText(s, p.labX, p.labY[i]);
    });
}

panels.forEach(drawPanel);
</script>
</body>
</html>
